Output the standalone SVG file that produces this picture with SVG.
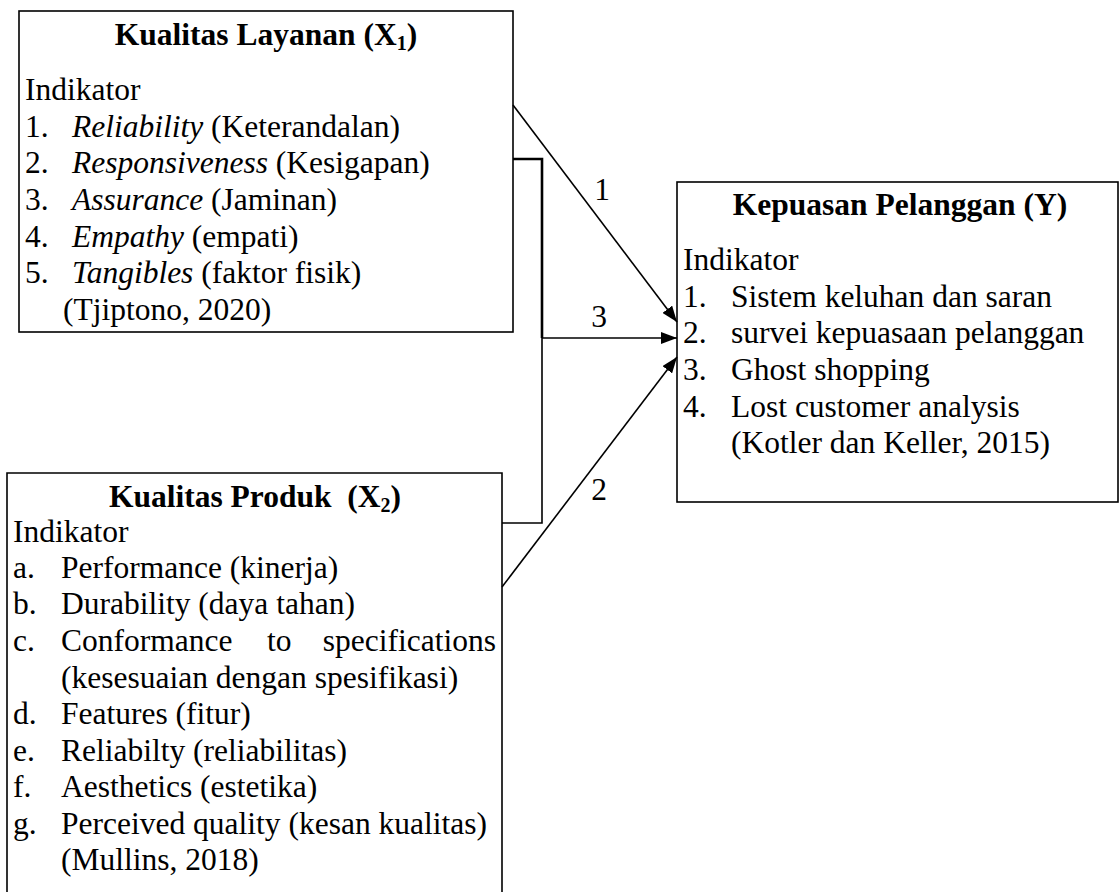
<svg xmlns="http://www.w3.org/2000/svg" width="1120" height="892" viewBox="0 0 1120 892">
<style>
text{font-family:"Liberation Serif","Times New Roman",serif;font-size:31.5px;fill:#000}
.t{font-weight:bold;text-anchor:middle}
.box{fill:#fff;stroke:#000;stroke-width:1.6}
.ln{fill:none;stroke:#000;stroke-width:1.6}
.thick{stroke-width:2.6}
.sub{font-size:20px}
</style>
<defs>
<marker id="ah" viewBox="0 0 16 12" refX="16" refY="6" markerWidth="16" markerHeight="12" markerUnits="userSpaceOnUse" orient="auto">
<path d="M0,0 L16,6 L0,12 z" fill="#000"/>
</marker>
</defs>
<rect x="0" y="0" width="1120" height="892" fill="#fff"/>
<g id="x1">
<rect class="box" x="19" y="11" width="494" height="321"/>
<text class="t" x="266" y="45">Kualitas Layanan (X<tspan class="sub" dy="5">1</tspan><tspan dy="-5">)</tspan></text>
<text x="25" y="100">Indikator</text>
<text x="25" y="137">1.</text><text x="72" y="137"><tspan font-style="italic">Reliability</tspan> (Keterandalan)</text>
<text x="25" y="173">2.</text><text x="72" y="173"><tspan font-style="italic">Responsiveness</tspan> (Kesigapan)</text>
<text x="25" y="210">3.</text><text x="72" y="210"><tspan font-style="italic">Assurance</tspan> (Jaminan)</text>
<text x="25" y="247">4.</text><text x="72" y="247"><tspan font-style="italic">Empathy</tspan> (empati)</text>
<text x="25" y="283">5.</text><text x="72" y="283"><tspan font-style="italic">Tangibles</tspan> (faktor fisik)</text>
<text x="63" y="320">(Tjiptono, 2020)</text>
</g>
<g id="y">
<rect class="box" x="677" y="182" width="441" height="320"/>
<text class="t" x="900" y="215">Kepuasan Pelanggan (Y)</text>
<text x="683" y="270">Indikator</text>
<text x="683" y="307">1.</text><text x="731" y="307">Sistem keluhan dan saran</text>
<text x="683" y="343">2.</text><text x="731" y="343">survei kepuasaan pelanggan</text>
<text x="683" y="380">3.</text><text x="731" y="380">Ghost shopping</text>
<text x="683" y="417">4.</text><text x="731" y="417">Lost customer analysis</text>
<text x="731" y="453">(Kotler dan Keller, 2015)</text>
</g>
<g id="x2">
<path class="box" d="M7,900 L7,473 L502,473 L502,900"/>
<text class="t" x="255" y="507" style="white-space:pre">Kualitas Produk  (X<tspan class="sub" dy="5">2</tspan><tspan dy="-5">)</tspan></text>
<text x="13" y="542">Indikator</text>
<text x="13" y="578">a.</text><text x="61" y="578">Performance (kinerja)</text>
<text x="13" y="614">b.</text><text x="61" y="614">Durability (daya tahan)</text>
<text x="13" y="651">c.</text><text x="61" y="651">Conformance</text><text x="267" y="651">to</text><text x="496" y="651" text-anchor="end">specifications</text>
<text x="61" y="688">(kesesuaian dengan spesifikasi)</text>
<text x="13" y="724">d.</text><text x="61" y="724">Features (fitur)</text>
<text x="13" y="761">e.</text><text x="61" y="761">Reliabilty (reliabilitas)</text>
<text x="13" y="797">f.</text><text x="61" y="797">Aesthetics (estetika)</text>
<text x="13" y="834">g.</text><text x="61" y="834">Perceived quality (kesan kualitas)</text>
<text x="61" y="870">(Mullins, 2018)</text>
</g>
<g id="connectors">
<line class="ln" x1="513" y1="105" x2="677" y2="322" marker-end="url(#ah)"/>
<path class="ln thick" d="M513,159 L542,159 L542,338"/>
<path class="ln" d="M542,338 L542,523 L502,523"/>
<line class="ln" x1="542" y1="338" x2="677" y2="338" marker-end="url(#ah)"/>
<line class="ln" x1="502" y1="587" x2="677" y2="357" marker-end="url(#ah)"/>
<text x="602" y="200" text-anchor="middle">1</text>
<text x="599" y="327" text-anchor="middle">3</text>
<text x="599" y="500" text-anchor="middle">2</text>
</g>
</svg>
